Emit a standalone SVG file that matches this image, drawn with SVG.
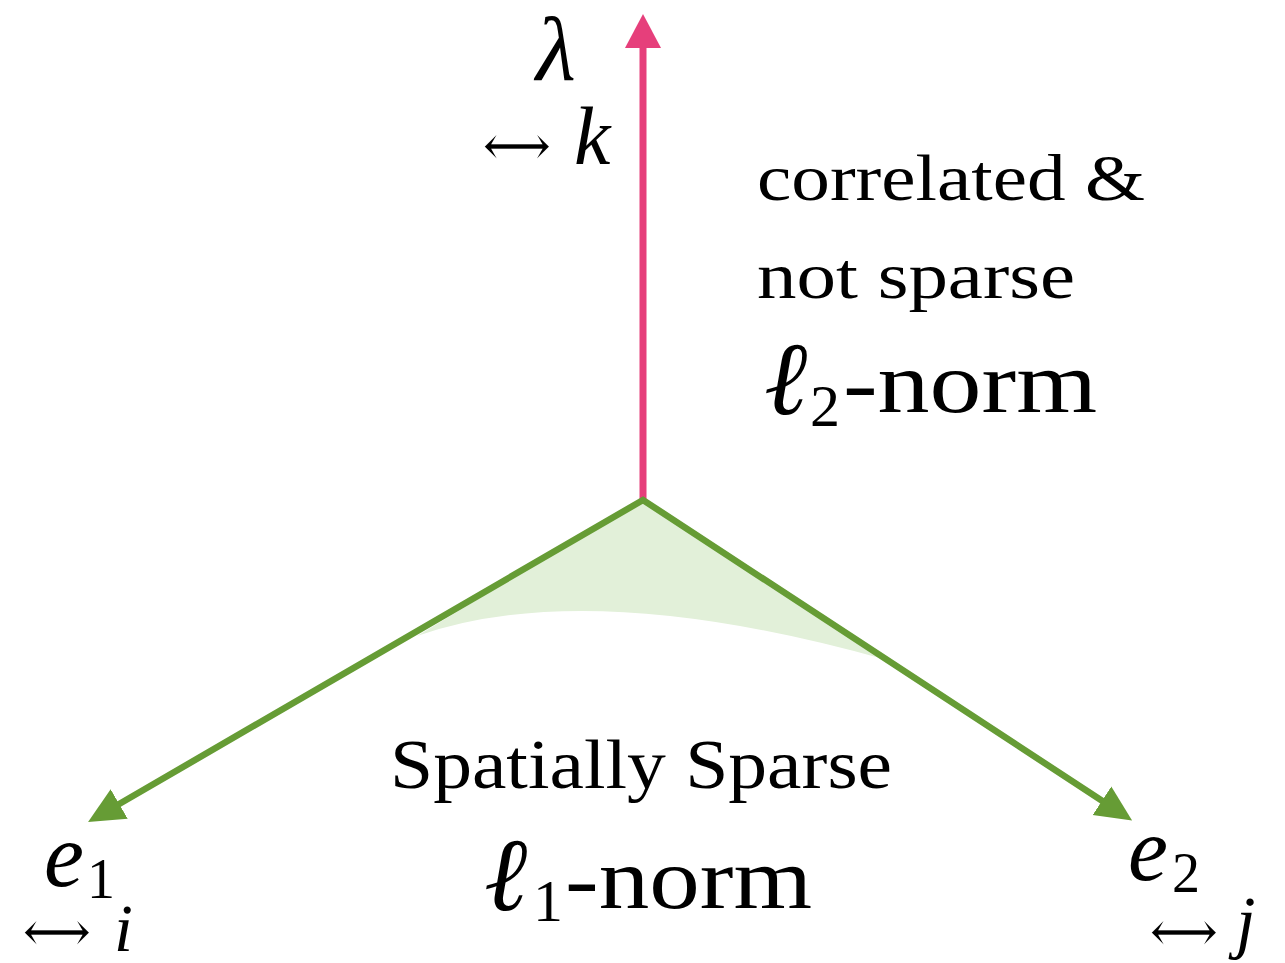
<svg xmlns="http://www.w3.org/2000/svg" width="1285" height="963" viewBox="0 0 1285 963">
<style>
.t{font-family:"Liberation Serif","DejaVu Serif",serif;fill:#000}
.m{font-family:"Liberation Serif","DejaVu Serif",serif;font-style:italic;fill:#000}
.a{font-family:"DejaVu Serif","Liberation Serif",serif;fill:#000;font-size:88px;stroke:#fff;stroke-width:2.5px}
</style>
<defs>
<marker id="pk" markerUnits="userSpaceOnUse" viewBox="0 0 36 36" markerWidth="36" markerHeight="36" refX="6" refY="18" orient="auto"><path d="M0,0 L34,18 L0,36 Z" fill="#E63F7B"/></marker>
<marker id="gr" markerUnits="userSpaceOnUse" viewBox="0 0 36 36" markerWidth="36" markerHeight="36" refX="6" refY="18" orient="auto-start-reverse"><path d="M0,1 L36,18 L0,35 Z" fill="#669C35"/></marker>
</defs>
<g id="region">
<path d="M643,500 L417,636 Q588,576 887,660 Z" fill="#E2F0D9"/>
</g>
<g id="connectors">
<line x1="643" y1="500" x2="643" y2="42" stroke="#E63F7B" stroke-width="7" marker-end="url(#pk)"/>
<path d="M114,807 L643,500 L1107,804" fill="none" stroke="#669C35" stroke-width="6.5" stroke-linejoin="miter" marker-start="url(#gr)" marker-end="url(#gr)"/>
</g>
<g id="lambda-label">
<text class="m" x="536" y="80" font-size="92">λ</text>
<text class="a" x="480" y="175">↔</text>
<text class="m" x="574" y="164" font-size="82">k</text>
</g>
<g id="l2-label">
<text class="t" x="757" y="200" font-size="66" textLength="388" lengthAdjust="spacingAndGlyphs">correlated &amp;</text>
<text class="t" x="757" y="298" font-size="66" textLength="318" lengthAdjust="spacingAndGlyphs">not sparse</text>
<text class="m" x="764" y="414" font-size="104">ℓ</text>
<text class="t" x="810" y="426" font-size="60">2</text>
<text class="t" x="843" y="412" font-size="86" textLength="254" lengthAdjust="spacingAndGlyphs">-norm</text>
</g>
<g id="l1-label">
<text class="t" x="390" y="788" font-size="70" textLength="502" lengthAdjust="spacingAndGlyphs">Spatially Sparse</text>
<text class="m" x="484" y="910" font-size="104">ℓ</text>
<text class="t" x="533" y="921" font-size="60">1</text>
<text class="t" x="565" y="908" font-size="86" textLength="247" lengthAdjust="spacingAndGlyphs">-norm</text>
</g>
<g id="e1-label">
<text class="m" x="44" y="886" font-size="90">e</text>
<text class="t" x="87" y="898" font-size="56">1</text>
<text class="a" x="20" y="961">↔</text>
<text class="m" x="114" y="951" font-size="68">i</text>
</g>
<g id="e2-label">
<text class="m" x="1128" y="880" font-size="90">e</text>
<text class="t" x="1172" y="892" font-size="56">2</text>
<text class="a" x="1147" y="961">↔</text>
<text class="m" x="1236" y="945" font-size="70">j</text>
</g>
</svg>
